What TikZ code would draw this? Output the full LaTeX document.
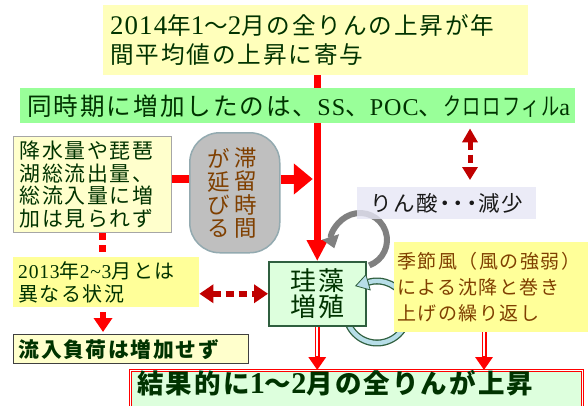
\documentclass[tikz,border=0pt]{standalone}
\usepackage{fontspec}
\usepackage{graphicx}
\setmainfont{Noto Sans CJK JP}[LetterSpace=8]
\newfontfamily\latL{Liberation Serif}[Scale=1.14, LetterSpace=4]
\newfontfamily\latM{Liberation Serif}[Scale=0.98, LetterSpace=4]
\usetikzlibrary{arrows.meta,calc}
\pgfdeclarelayer{bg}
\pgfsetlayers{bg,main}
\definecolor{txtg}{HTML}{003300}
\definecolor{brn}{HTML}{7F3F00}
\definecolor{topy}{HTML}{FFFFBB}
\definecolor{ylw}{HTML}{FFFF99}
\definecolor{cream}{HTML}{FFFFCC}
\definecolor{grn}{HTML}{99FF99}
\definecolor{lgrn}{HTML}{DDFFDD}
\definecolor{lav}{HTML}{E6E6F5}
\definecolor{dred}{HTML}{C00000}
\definecolor{lblue}{HTML}{B7DEE8}
\definecolor{dgrn}{HTML}{2F5F3F}
\definecolor{rbord}{HTML}{93AAB0}
\newcommand\dt{\kern-4pt・\kern-4pt}
\tikzset{
  bx/.style={anchor=north west, inner ysep=0pt, align=left},
  vt/.style={align=center, inner sep=0pt, text=brn, font=\fontsize{22.5pt}{23.3pt}\selectfont},
  thickred/.style={red, line width=#1},
  rdash/.style={red, line width=7pt, dash pattern=on 7pt off 5pt},
  ddash/.style={dred, line width=#1, dash pattern=on 8pt off 5pt},
  dblred/.style={red, line width=5pt, -{Triangle[length=13pt,width=17pt]}},
  dblwhite/.style={white, line width=2pt, shorten >=14pt},
}
\begin{document}
\begin{tikzpicture}[x=1pt,y=-1pt]
\useasboundingbox (0,0) rectangle (588,405);

% boxes
\node[bx, fill=topy, minimum width=425pt, minimum height=70pt, text width=411pt, inner xsep=7pt,
  text=txtg, font=\fontsize{23.6pt}{29pt}\selectfont] (top) at (103,5)
  {{\latL 2014}年{\latL 1}〜{\latL 2}月の全りんの上昇が年\\間平均値の上昇に寄与};

\node[bx, fill=grn, minimum width=555pt, minimum height=35pt, text width=541pt, inner xsep=7pt,
  text=txtg, font=\fontsize{24.6pt}{29pt}\selectfont] (grn) at (20,88)
  {同時期に増加したのは、{\latM SS}、{\latM POC}、\scalebox{0.74}[1]{クロロフィル}{\latM a}};

\node[bx, fill=cream, draw=gray!70, line width=1pt, minimum width=158pt, minimum height=96pt,
  text width=146pt, inner xsep=6pt, text=txtg, font=\fontsize{20.9pt}{22.5pt}\selectfont] (lbox) at (13,136)
  {降水量や琵琶\\湖総流出量、\\総流入量に増\\加は見られず};

\node[anchor=north west, fill=gray!50, draw=rbord, line width=1.5pt, rounded corners=30pt,
  minimum width=90pt, minimum height=120pt, inner sep=0pt] (rbox) at (189,132) {};
\node[vt] (vt1) at (246,193) {滞\\留\\時\\間};
\node[vt] (vt2) at (219,193) {が\\延\\び\\る};

\node[bx, fill=ylw, minimum width=186pt, minimum height=50pt, text width=176pt, inner xsep=5pt,
  text=txtg, font=\fontsize{20pt}{23pt}\selectfont] (y13) at (13,257)
  {{\latM 2013}年{\latM 2\textasciitilde 3}月とは\\異なる状況};

\node[bx, fill=cream, draw=black!75, line width=1.2pt, minimum width=235pt, minimum height=29pt,
  text width=225pt, inner xsep=5pt, text=txtg, font=\bfseries\fontsize{20.8pt}{24pt}\selectfont] (inflow) at (13,334)
  {流入負荷は増加せず};

\node[anchor=north west, fill=lgrn, draw=dgrn, line width=1.5pt, minimum width=97pt, minimum height=64pt,
  inner sep=0pt, align=center, text=txtg, font=\fontsize{26pt}{26pt}\selectfont] (diatom) at (268,261)
  {珪藻\\増殖};

\node[anchor=north west, fill=lav, fill opacity=0.8, text opacity=1, minimum width=179pt, minimum height=32pt,
  inner sep=0pt, text=black!90, font=\fontsize{21.5pt}{24pt}\selectfont] (lav) at (357,187)
  {りん酸\dt\dt\dt 減少};

\node[bx, fill=ylw, minimum width=194pt, minimum height=90pt, text width=188pt, inner xsep=3pt,
  text=brn, font=\fontsize{19pt}{26pt}\selectfont] (season) at (394,242)
  {季節風（風の強弱）\\による沈降と巻き\\上げの繰り返し};

\node[anchor=north west, fill=lgrn, draw=red, double=white, double distance=1.5pt, line width=0.8pt,
  minimum width=452pt, inner xsep=7pt, inner ysep=2pt, text width=438pt, align=left,
  text height=21pt, text depth=35pt, text=txtg, font=\bfseries\fontsize{26.5pt}{30pt}\selectfont] (res) at (130,370)
  {結果的に{\latL 1}～{\latL 2}月の全りんが上昇};

% blue arrow head (above the diatom box)
\draw[dgrn, line width=0.8pt, -{Triangle[length=14pt,width=17pt,fill=lblue]}]
  ($(377,312)+(-105:31)$) -- ++(-14,4);

\coordinate (hy) at (0,179);
\coordinate (dx) at (102,0);
\coordinate (ax) at (103,0);
\coordinate (vx) at (470,0);
\coordinate (rx) at (484,0);

\begin{pgfonlayer}{bg}
\fill[white] (0,0) rectangle (588,405);
% main vertical arrow
\draw[thickred=7.5pt, -{Triangle[length=21pt,width=20pt]}] (diatom.north |- top.south) -- (diatom.north);
% horizontal arrows
\draw[thickred=8pt] (lbox.east |- hy) -- (rbox.west |- hy);
\draw[thickred=9pt, -{Triangle[length=19pt,width=30pt]}, shorten >=4.5pt] (rbox.east |- hy) -- (diatom.north |- hy);
% dotted under left box
\draw[rdash, shorten >=5pt] (lbox.south -| dx) -- (y13.north -| dx);
% small red arrow
\draw[thickred=6pt, -{Triangle[length=14pt,width=18pt]}, shorten <=5pt, shorten >=2pt] (y13.south -| ax) -- (inflow.north -| ax);
% dark red dotted double arrows
\draw[ddash=6pt, {Triangle[length=14pt,width=18pt]}-{Triangle[length=14pt,width=18pt]}] (diatom.west -| y13.east) -- (diatom.west);
\draw[ddash=5pt, {Triangle[length=14pt,width=15pt]}-{Triangle[length=13pt,width=15pt]}, shorten <=5pt, shorten >=7pt] (grn.south -| vx) -- (lav.north -| vx);
% double red arrows
\draw[dblred] (diatom.south) -- (diatom.south |- res.north);
\draw[dblwhite] (diatom.south) -- (diatom.south |- res.north);
\draw[dblred] (season.south -| rx) -- (res.north -| rx);
\draw[dblwhite] (season.south -| rx) -- (res.north -| rx);
% gray cycle arc
\draw[gray, line width=6pt, -{Triangle[length=12pt,width=17pt]}]
  ($(360,240)+(70:27)$) arc[start angle=70, end angle=-198, radius=27];
% blue cycle arc
\draw[dgrn, line width=7pt] ($(377,312)+(160:31)$) arc[start angle=160, end angle=-108, radius=31];
\draw[lblue, line width=4.4pt] ($(377,312)+(160:31)$) arc[start angle=160, end angle=-108, radius=31];
\end{pgfonlayer}
\end{tikzpicture}
\end{document}
